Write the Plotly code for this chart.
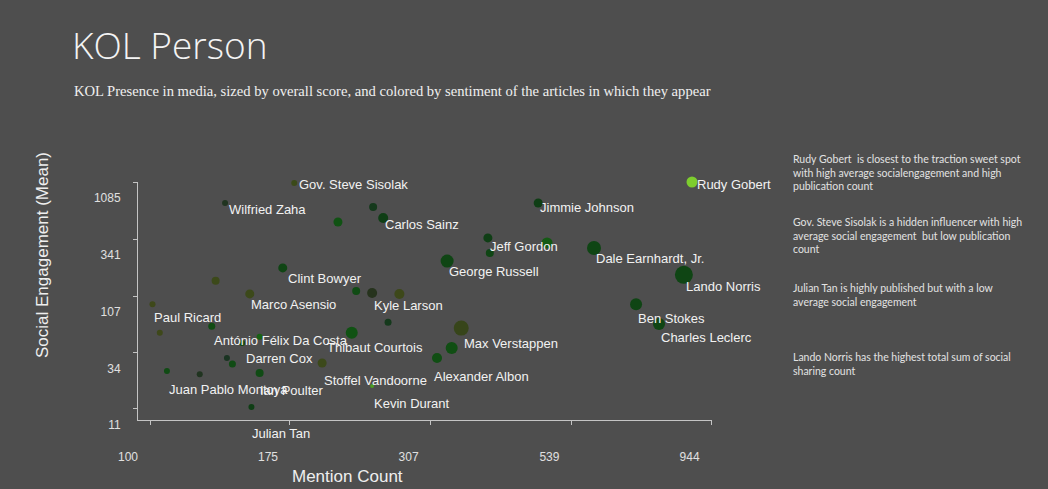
import plotly.graph_objects as go
import numpy as np

# ---------------- data ----------------
names = ["Rudy Gobert", "Gov. Steve Sisolak", "Wilfried Zaha", "Jimmie Johnson", "",
         "Carlos Sainz", "", "Jeff Gordon", "", "",
         "Dale Earnhardt, Jr.", "George Russell", "Lando Norris", "Clint Bowyer", "",
         "Marco Asensio", "", "Kyle Larson", "", "Ben Stokes",
         "Charles Leclerc", "Paul Ricard", "", "António Félix Da Costa", "",
         "", "Thibaut Courtois", "Max Verstappen", "", "Alexander Albon",
         "Darren Cox", "", "", "Stoffel Vandoorne", "Juan Pablo Montoya",
         "", "Ian Poulter", "Kevin Durant", "Julian Tan"]
mention_count = [873, 178, 135, 472, 244,
                 254, 212, 386, 389, 489,
                 590, 328, 845, 170, 130,
                 149, 228, 243, 271, 698,
                 765, 101, 104, 128, 155,
                 259, 224, 347, 334, 315,
                 144.5, 139, 136, 199, 107,
                 122, 155, 243, 150]
social_engagement = [1085, 1063, 708, 708, 654,
                     523, 482, 349, 257, 315,
                     284, 218, 165, 190, 146,
                     112, 119, 114, 112, 91,
                     61, 91, 51, 58, 47,
                     63, 51, 56, 37.4, 30.5,
                     41.4, 27, 30.5, 27.6, 23.5,
                     22, 22.5, 17.3, 11.3]
overall_score = [11, 6, 6, 9, 8,
                 10, 9, 9, 8, 11,
                 14, 13, 18, 9, 8,
                 9, 8, 10, 10, 12,
                 12, 6, 6, 7, 6,
                 7, 12, 15, 12, 10,
                 6, 7, 6, 9, 6,
                 6, 8, 4, 6]
sentiment = [1.0, 0.2, 0.35, 0.5, 0.45,
             0.5, 0.65, 0.5, 0.55, 0.7,
             0.55, 0.55, 0.55, 0.55, 0.15,
             0.15, 0.6, 0.3, 0.12, 0.55,
             0.55, 0.1, 0.1, 0.6, 0.75,
             0.45, 0.65, 0.22, 0.62, 0.62,
             0.6, 0.6, 0.4, 0.15, 0.6,
             0.35, 0.6, 0.9, 0.5]

x_ticks = [100, 175, 307, 539, 944]
y_ticks = [11, 34, 107, 341, 1085]

notes = [
    "Rudy Gobert  is closest to the traction sweet spot<br>with high average socialengagement and high<br>publication count",
    "Gov. Steve Sisolak is a hidden influencer with high<br>average social engagement  but low publication<br>count",
    "Julian Tan is highly published but with a low<br>average social engagement",
    "Lando Norris has the highest total sum of social<br>sharing count",
]

# ---------------- style / layout ----------------
# label offsets (px) from the marker: (right, down)
label_offsets = {
    "Rudy Gobert": (3, 2), "Gov. Steve Sisolak": (3, 1), "Wilfried Zaha": (2, 6),
    "Jimmie Johnson": (0, 4), "Carlos Sainz": (0, 7), "Jeff Gordon": (0, 9),
    "Dale Earnhardt, Jr.": (0, 10), "George Russell": (0, 10), "Lando Norris": (0, 12),
    "Clint Bowyer": (3, 11), "Marco Asensio": (-1, 11), "Kyle Larson": (0, 12),
    "Ben Stokes": (0, 14), "Charles Leclerc": (0, 14), "Paul Ricard": (0, 13),
    "António Félix Da Costa": (0, 14), "Thibaut Courtois": (-27, 15),
    "Max Verstappen": (1, 15), "Alexander Albon": (-5, 18), "Darren Cox": (2, 16),
    "Stoffel Vandoorne": (0, 18), "Juan Pablo Montoya": (0, 19), "Ian Poulter": (-2, 17),
    "Kevin Durant": (0, 17), "Julian Tan": (-1, 26),
}
note_tops = [151, 214, 280, 349]

BG = "#4e4e4e"
L, R, T, B = 138, 712, 182, 420
W, H = 1048, 489
PW, PH = R - L, B - T


def px(xp):
    return (xp - L) / PW


def py(yp):
    return (B - yp) / PH


colorscale = [
    [0.0, "#3f4618"], [0.2, "#3a4a16"], [0.3, "#24321a"], [0.4, "#173320"],
    [0.5, "#0c3d12"], [0.65, "#0d5210"], [0.8, "#1a6c12"], [1.0, "#7fd42c"],
]

fig = go.Figure()
fig.add_trace(go.Scatter(
    x=mention_count, y=social_engagement, mode="markers",
    text=names, hoverinfo="text",
    marker=dict(size=overall_score, sizemode="diameter", color=sentiment,
                colorscale=colorscale, cmin=0, cmax=1, showscale=False,
                line=dict(width=0), opacity=0.95),
    cliponaxis=False, showlegend=False,
))

annotations = []
for n, xv, yv in zip(names, mention_count, social_engagement):
    if not n:
        continue
    dx, dy = label_offsets.get(n, (0, 10))
    annotations.append(dict(
        x=np.log10(xv), y=np.log10(yv), xref="x", yref="y", text=n,
        showarrow=False, xanchor="left", yanchor="middle",
        xshift=dx, yshift=-dy,
        font=dict(family="Liberation Sans, Arial", size=13, color="#f2f2f2"),
    ))

annotations.append(dict(
    x=px(70), y=py(44), xref="paper", yref="paper", text="KOL Person",
    showarrow=False, xanchor="left", yanchor="middle",
    font=dict(family="Open Sans", size=37, color="#f4f4f4", weight=300),
))
annotations.append(dict(
    x=px(72), y=py(91), xref="paper", yref="paper",
    text="KOL Presence in media, sized by overall score, and colored by sentiment of the articles in which they appear",
    showarrow=False, xanchor="left", yanchor="middle",
    font=dict(family="Liberation Serif, Times New Roman", size=14.6, color="#f0f0f0"),
))
annotations.append(dict(
    x=px(42), y=py(255), xref="paper", yref="paper", text="Social Engagement (Mean)",
    showarrow=False, textangle=-90, xanchor="center", yanchor="middle",
    font=dict(family="Liberation Sans, Arial", size=17, color="#eeeeee"),
))
annotations.append(dict(
    x=px(347), y=py(476), xref="paper", yref="paper", text="Mention Count",
    showarrow=False, xanchor="center", yanchor="middle",
    font=dict(family="Liberation Sans, Arial", size=17, color="#eeeeee"),
))
for txt, top in zip(notes, note_tops):
    annotations.append(dict(
        x=px(791), y=py(top), xref="paper", yref="paper", text=txt,
        showarrow=False, xanchor="left", yanchor="top", align="left",
        font=dict(family="Lato", size=10.5, color="#e2e2e2"),
    ))

axis_common = dict(
    type="log", showgrid=False, zeroline=False, showline=True,
    linecolor="#c4c4c4", linewidth=1, ticks="outside", ticklen=4,
    tickcolor="#c4c4c4", tickfont=dict(family="Liberation Sans, Arial", size=12, color="#e0e0e0"),
    fixedrange=True,
)

fig.update_layout(
    width=W, height=H, autosize=False,
    margin=dict(l=L, r=W - R, t=T, b=H - B, pad=0),
    paper_bgcolor=BG, plot_bgcolor=BG,
    xaxis=dict(**axis_common,
               range=[2 + (L - 150) / 576, 2 + (R - 150) / 576],
               tickvals=x_ticks, ticktext=[str(v) for v in x_ticks],
               ticklabelshift=-22, ticklabelstandoff=22),
    yaxis=dict(**axis_common,
               range=[np.log10(1085) - PH / 113.5, np.log10(1085)],
               tickvals=y_ticks, ticktext=[str(v) for v in y_ticks],
               ticklabelshift=16, ticklabelstandoff=10),
    annotations=annotations,
    hovermode="closest",
)

fig.write_html("out.html")
